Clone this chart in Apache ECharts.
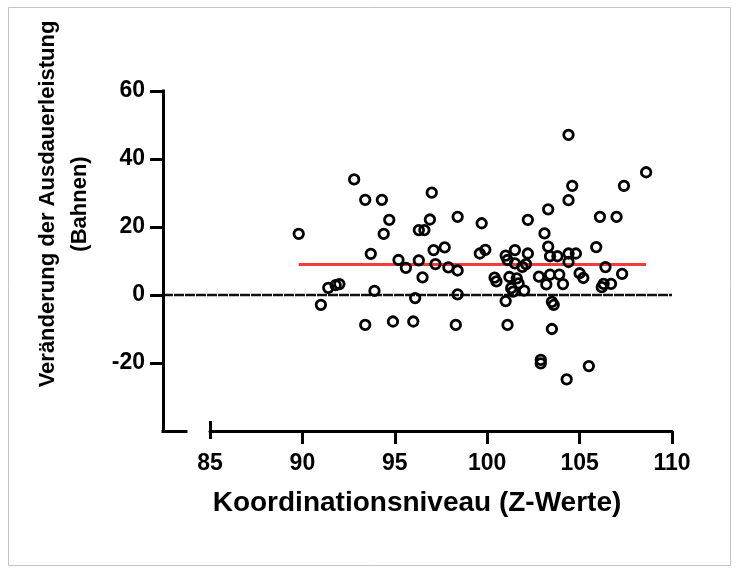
<!DOCTYPE html>
<html>
<head>
<meta charset="utf-8">
<script src="https://cdn.jsdelivr.net/npm/echarts@6/dist/echarts.min.js"></script>
<style>
  html, body { margin: 0; padding: 0; background: #fff; }
  #chart { width: 739px; height: 573px; }
</style>
</head>
<body>
<div id="chart"></div>
<script>
// Koordinationsniveau (Z-Werte) per participant
const koordination = [
  89.8, 91.0, 91.4, 91.8, 92.0, 92.8, 93.4, 94.3, 94.7, 94.4, 93.7, 95.2, 95.6, 96.3, 96.3,
  96.6, 97.0, 96.9, 98.4, 97.1, 97.7, 97.2, 97.9, 98.4, 96.5, 93.9, 96.1, 98.4, 93.4, 94.9,
  96.0, 98.3, 99.7, 99.6, 99.9, 100.4, 100.5, 101.0, 101.1, 101.5, 101.5, 101.9, 102.1, 102.2,
  101.2, 101.6, 101.7, 101.3, 101.4, 102.0, 101.0, 101.1, 102.2, 102.8, 102.9, 102.9, 103.1,
  103.3, 103.3, 103.4, 103.8, 103.4, 103.9, 103.2, 104.1, 103.5, 103.6, 103.5, 104.4, 104.6,
  104.4, 104.4, 104.8, 104.4, 105.9, 106.1, 107.0, 107.4, 108.6, 106.4, 107.3, 105.0, 105.2,
  106.7, 106.2, 106.3, 105.5, 104.3
];
// Veränderung der Ausdauerleistung (Bahnen), same order
const veraenderung = [
  18.0, -2.9, 2.1, 2.9, 3.2, 34.0, 28.0, 28.0, 22.1, 18.0, 12.1, 10.3, 8.0, 10.2, 19.1,
  19.1, 30.1, 22.2, 23.0, 13.2, 14.0, 9.1, 8.1, 7.2, 5.2, 1.2, -0.9, 0.2, -8.8, -7.8,
  -7.8, -8.8, 21.1, 12.2, 13.3, 5.1, 4.0, 11.6, 10.3, 13.2, 9.3, 8.3, 9.1, 12.2,
  5.3, 4.9, 3.4, 2.0, 1.0, 1.3, -1.8, -8.8, 22.1, 5.4, -19.1, -20.1, 18.1,
  25.2, 14.2, 11.4, 11.4, 6.0, 6.0, 3.1, 3.2, -2.0, -2.9, -10.0, 47.1, 32.1,
  27.9, 12.2, 12.2, 9.7, 14.1, 23.0, 23.0, 32.1, 36.1, 8.2, 6.2, 6.4, 5.0,
  3.3, 2.3, 3.3, -20.9, -24.8
];
// Fitted line across the observed range
const fitX = [89.8, 108.6];
const fitY = [9.0, 9.0];
// Axis ticks
const xTicks = [90, 95, 100, 105, 110];
const yTicks = [-20, 0, 20, 40, 60];

const FONT = '"Liberation Sans", Arial, Helvetica, sans-serif';
const points = koordination.map((x, i) => [x, veraenderung[i]]);
const fitLine = fitX.map((x, i) => [x, fitY[i]]);

const axisLineStyle = { color: '#000', width: 3 };

const chart = echarts.init(document.getElementById('chart'), null, { renderer: 'canvas' });
chart.setOption({
  backgroundColor: '#fff',
  animation: false,
  grid: [
    { left: 210, top: 91, width: 462, height: 340 },   // main plot
    { left: 163, top: 91, width: 509, height: 340 },   // zero reference line from the y axis
    { left: 163, top: 91, width: 23, height: 340 }     // short axis stub before the break
  ],
  xAxis: [
    {
      gridIndex: 0, type: 'value', min: 85, max: 110, interval: 5,
      axisLine: { onZero: false, lineStyle: axisLineStyle },
      axisTick: { customValues: xTicks, length: 13, lineStyle: { width: 3, color: '#000' } },
      axisLabel: { fontSize: 23, fontWeight: 'bold', color: '#000', fontFamily: FONT, margin: 21 },
      splitLine: { show: false }
    },
    { gridIndex: 1, type: 'value', min: 0, max: 1, show: false },
    {
      gridIndex: 2, type: 'value', min: 0, max: 1,
      axisLine: { onZero: false, lineStyle: Object.assign({ cap: 'square' }, axisLineStyle) },
      axisTick: { show: false }, axisLabel: { show: false }, splitLine: { show: false }
    },
    {
      // end cap of the broken axis at 85
      gridIndex: 0, type: 'value', min: 85, max: 110, position: 'bottom', offset: -10,
      axisLine: { show: false, onZero: false },
      axisTick: { customValues: [85], length: 18, lineStyle: { width: 3, color: '#000' } },
      axisLabel: { show: false }, splitLine: { show: false }
    }
  ],
  yAxis: [
    {
      gridIndex: 0, type: 'value', min: -40, max: 60, interval: 20, offset: 47,
      axisLine: { onZero: false, lineStyle: Object.assign({ cap: 'square' }, axisLineStyle) },
      axisTick: { customValues: yTicks, length: 13, lineStyle: { width: 3, color: '#000' } },
      axisLabel: { customValues: yTicks, fontSize: 23, fontWeight: 'bold', color: '#000', fontFamily: FONT, margin: 18 },
      splitLine: { show: false }
    },
    { gridIndex: 1, type: 'value', min: -40, max: 60, show: false },
    { gridIndex: 2, type: 'value', min: -40, max: 60, show: false }
  ],
  series: [
    {
      type: 'line', xAxisIndex: 1, yAxisIndex: 1, data: [[0, 0], [1, 0]],
      symbol: 'none', silent: true, z: 1,
      lineStyle: { color: '#111', width: 2.6, type: [10, 1] }
    },
    {
      type: 'line', xAxisIndex: 0, yAxisIndex: 0, data: fitLine,
      symbol: 'none', silent: true, z: 2,
      lineStyle: { color: '#f23b3b', width: 3 }
    },
    {
      type: 'scatter', xAxisIndex: 0, yAxisIndex: 0, data: points,
      symbol: 'circle', symbolSize: 9.5, z: 3,
      itemStyle: { color: 'rgba(0,0,0,0)', borderColor: '#000', borderWidth: 2.8, opacity: 1 }
    }
  ],
  graphic: [
    {
      type: 'rect', silent: true,
      shape: { x: 8.5, y: 7.5, width: 722, height: 558 },
      style: { fill: 'none', stroke: '#c4c4c4', lineWidth: 1 }
    },
    {
      type: 'text', silent: true, x: 417, y: 503,
      style: {
        text: 'Koordinationsniveau (Z-Werte)', fill: '#000',
        font: 'bold 28px ' + FONT, textAlign: 'center', textVerticalAlign: 'middle'
      }
    },
    {
      type: 'text', silent: true, x: 64, y: 204, rotation: Math.PI / 2,
      style: {
        text: 'Veränderung der Ausdauerleistung\n(Bahnen)', fill: '#000',
        font: 'bold 22px ' + FONT, lineHeight: 32,
        textAlign: 'center', textVerticalAlign: 'middle'
      }
    }
  ]
});
</script>
</body>
</html>
